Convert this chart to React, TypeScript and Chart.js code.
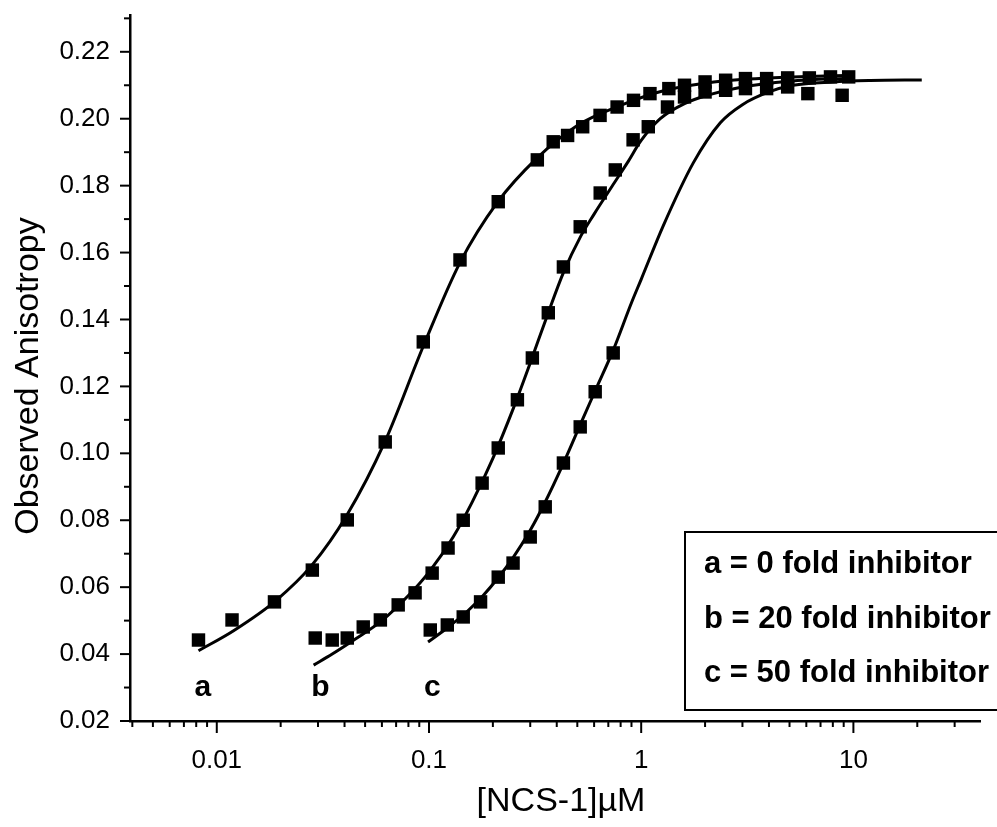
import React, { useEffect, useRef } from "react";
import { Chart, registerables } from "chart.js";

Chart.register(...registerables);

// ---- measured data: series a (0 fold inhibitor) ----
const aX = [0.0082, 0.0118, 0.0187, 0.0282, 0.0412, 0.0622, 0.094, 0.14, 0.212, 0.324, 0.385, 0.45, 0.53, 0.64, 0.77, 0.92, 1.1, 1.35, 1.6, 2.0, 2.5, 3.1, 3.9, 4.9, 6.2, 7.8, 9.5];
const aY = [0.0442, 0.0502, 0.0556, 0.0651, 0.0801, 0.1034, 0.1333, 0.1578, 0.1752, 0.1877, 0.1931, 0.195, 0.1976, 0.201, 0.2035, 0.2055, 0.2075, 0.209, 0.21, 0.211, 0.2115, 0.212, 0.212, 0.2122, 0.2122, 0.2125, 0.2125];

// ---- series b (20 fold inhibitor) ----
const bX = [0.0291, 0.035, 0.0412, 0.049, 0.059, 0.0716, 0.086, 0.1035, 0.123, 0.145, 0.178, 0.212, 0.261, 0.307, 0.365, 0.43, 0.516, 0.641, 0.755, 0.916, 1.08, 1.33, 1.6, 2.0, 2.5, 3.1, 3.9, 4.9];
const bY = [0.0448, 0.0442, 0.0448, 0.0481, 0.0502, 0.0547, 0.0583, 0.0642, 0.0717, 0.08, 0.0911, 0.1016, 0.116, 0.1285, 0.142, 0.1557, 0.1677, 0.1778, 0.1847, 0.1937, 0.1976, 0.2035, 0.2065, 0.208, 0.2085, 0.209, 0.209, 0.2095];

// ---- series c (50 fold inhibitor) ----
const cX = [0.1014, 0.122, 0.145, 0.175, 0.212, 0.249, 0.3, 0.353, 0.43, 0.516, 0.607, 0.738, 6.1, 8.85];
const cY = [0.0472, 0.0487, 0.0511, 0.0556, 0.063, 0.0672, 0.075, 0.084, 0.0971, 0.1079, 0.1184, 0.13, 0.2075, 0.207];

// ---- fitted curves ----
const fitAX = [0.0082, 0.012, 0.019, 0.028, 0.041, 0.062, 0.094, 0.14, 0.21, 0.32, 0.5, 0.8, 1.3, 2.2, 4, 10];
const fitAY = [0.041, 0.047, 0.056, 0.0665, 0.0815, 0.1035, 0.132, 0.157, 0.175, 0.188, 0.198, 0.204, 0.2085, 0.211, 0.2122, 0.213];

const fitBX = [0.0286, 0.035, 0.045, 0.06, 0.08, 0.1, 0.13, 0.16, 0.2, 0.25, 0.3, 0.36, 0.43, 0.52, 0.6, 0.75, 0.86, 1.0, 1.23, 1.6, 2.1, 3, 5, 10];
const fitBY = [0.0367, 0.04, 0.0445, 0.05, 0.0575, 0.0645, 0.075, 0.0855, 0.0985, 0.1135, 0.127, 0.141, 0.154, 0.165, 0.1715, 0.181, 0.1868, 0.1935, 0.2, 0.2045, 0.2072, 0.2095, 0.2112, 0.2122];

const fitCX = [0.099, 0.12, 0.15, 0.18, 0.21, 0.25, 0.3, 0.35, 0.43, 0.52, 0.61, 0.74, 0.9, 1.0, 1.27, 1.76, 2.36, 3.0, 4.0, 5.2, 8, 12, 21];
const fitCY = [0.0436, 0.0475, 0.0525, 0.0575, 0.0625, 0.069, 0.077, 0.085, 0.097, 0.109, 0.119, 0.131, 0.145, 0.152, 0.168, 0.1868, 0.1988, 0.2042, 0.208, 0.21, 0.211, 0.2114, 0.2116];

// ---- axes / labels ----
const xTickValues = [0.01, 0.1, 1, 10];
const xTickLabels = ["0.01", "0.1", "1", "10"];
const xTitle = "[NCS-1]\u00B5M";
const yTitle = "Observed Anisotropy";
const curveLetters = ["a", "b", "c"];
const curveLetterX = [0.0086, 0.0308, 0.1037];
const curveLetterY = [0.03, 0.03, 0.03];
const legendLabels = ["a = 0 fold inhibitor", "b = 20 fold inhibitor", "c = 50 fold inhibitor"];

const FONT = '"Liberation Sans", Arial, Helvetica, sans-serif';

function zip(xs: number[], ys: number[]) {
  return xs.map((x, i) => ({ x, y: ys[i] }));
}

export default function App() {
  const ref = useRef<HTMLCanvasElement>(null);

  useEffect(() => {
    document.body.style.margin = "0";
    const canvas = ref.current!;

    const decor = {
      id: "decor",
      afterDraw(chart: any) {
        const ctx = chart.ctx as CanvasRenderingContext2D;
        const xs = chart.scales.x;
        const ys = chart.scales.y;
        const area = chart.chartArea;
        ctx.save();
        ctx.strokeStyle = "#000";
        ctx.fillStyle = "#000";
        ctx.lineWidth = 2;
        // y ticks (major every 0.02, minor every 0.01)
        for (let i = 2; i <= 23; i++) {
          const v = i / 100;
          const yy = ys.getPixelForValue(v);
          const len = i % 2 === 0 ? 10 : 6;
          ctx.beginPath();
          ctx.moveTo(area.left, yy);
          ctx.lineTo(area.left - len, yy);
          ctx.stroke();
        }
        // x ticks (log decades + minors)
        for (let e = -3; e <= 1; e++) {
          for (let m = 1; m <= 9; m++) {
            const v = m * Math.pow(10, e);
            if (v < xs.min || v > xs.max) continue;
            const xx = xs.getPixelForValue(v);
            const len = m === 1 ? 12 : 6;
            ctx.beginPath();
            ctx.moveTo(xx, area.bottom);
            ctx.lineTo(xx, area.bottom + len);
            ctx.stroke();
          }
        }
        // axis titles
        ctx.font = `34px ${FONT}`;
        ctx.textAlign = "center";
        ctx.textBaseline = "middle";
        ctx.fillText(xTitle, 561, 802);
        ctx.save();
        ctx.translate(29, 376);
        ctx.rotate(-Math.PI / 2);
        ctx.fillText(yTitle, 0, 0);
        ctx.restore();
        // curve letters
        ctx.font = `bold 30px ${FONT}`;
        curveLetters.forEach((t, i) => {
          ctx.fillText(t, xs.getPixelForValue(curveLetterX[i]), ys.getPixelForValue(curveLetterY[i]));
        });
        // legend box
        ctx.lineWidth = 2;
        ctx.fillStyle = "#fff";
        ctx.fillRect(685, 532, 330, 178);
        ctx.strokeRect(685, 532, 330, 178);
        ctx.fillStyle = "#000";
        ctx.font = `bold 31px ${FONT}`;
        ctx.textAlign = "left";
        const rowY = [564, 619, 673];
        legendLabels.forEach((t, i) => ctx.fillText(t, 704, rowY[i]));
        ctx.restore();
      },
    };

    const lineDs = (xs: number[], ys: number[]) => ({
      data: zip(xs, ys),
      showLine: true,
      pointRadius: 0,
      borderColor: "#000",
      borderWidth: 3,
      cubicInterpolationMode: "monotone" as const,
      fill: false,
    });
    const ptDs = (xs: number[], ys: number[]) => ({
      data: zip(xs, ys),
      showLine: false,
      pointStyle: "rect" as const,
      pointRadius: 9.5,
      backgroundColor: "#000",
      borderColor: "#000",
      borderWidth: 0,
    });

    const chart = new Chart(canvas, {
      type: "scatter",
      data: {
        datasets: [
          lineDs(fitAX, fitAY),
          lineDs(fitBX, fitBY),
          lineDs(fitCX, fitCY),
          ptDs(aX, aY),
          ptDs(bX, bY),
          ptDs(cX, cY),
        ] as any,
      },
      options: {
        responsive: false,
        animation: false,
        devicePixelRatio: 1,
        layout: { padding: { left: 0, right: 17, top: 15, bottom: 0 } },
        plugins: { legend: { display: false }, tooltip: { enabled: false } },
        scales: {
          x: {
            type: "logarithmic",
            position: "bottom",
            min: 0.0039,
            max: 39.5,
            grid: { display: false, drawTicks: false },
            border: { display: true, color: "#000", width: 2.5 },
            ticks: {
              autoSkip: false,
              maxRotation: 0,
              minRotation: 0,
              padding: 24,
              color: "#000",
              font: { family: FONT, size: 26 },
              callback: (v: any) => {
                const n = Number(v);
                const i = xTickValues.findIndex((t) => Math.abs(n - t) / t < 1e-6);
                return i >= 0 ? xTickLabels[i] : "";
              },
            },
            afterFit: (s: any) => {
              s.height = 106;
              s.paddingLeft = 0;
              s.paddingRight = 0;
            },
          },
          y: {
            type: "linear",
            min: 0.02,
            max: 0.231,
            grid: { display: false, drawTicks: false },
            border: { display: true, color: "#000", width: 2.5 },
            ticks: {
              stepSize: 0.02,
              includeBounds: false,
              padding: 20,
              color: "#000",
              font: { family: FONT, size: 26 },
              callback: (v: any) => Number(v).toFixed(2),
            },
            afterFit: (s: any) => {
              s.width = 130;
              s.paddingTop = 0;
              s.paddingBottom = 0;
            },
          },
        },
      } as any,
      plugins: [decor],
    });
    return () => chart.destroy();
  }, []);

  return <canvas ref={ref} width={997} height={827} style={{ display: "block" }} />;
}
